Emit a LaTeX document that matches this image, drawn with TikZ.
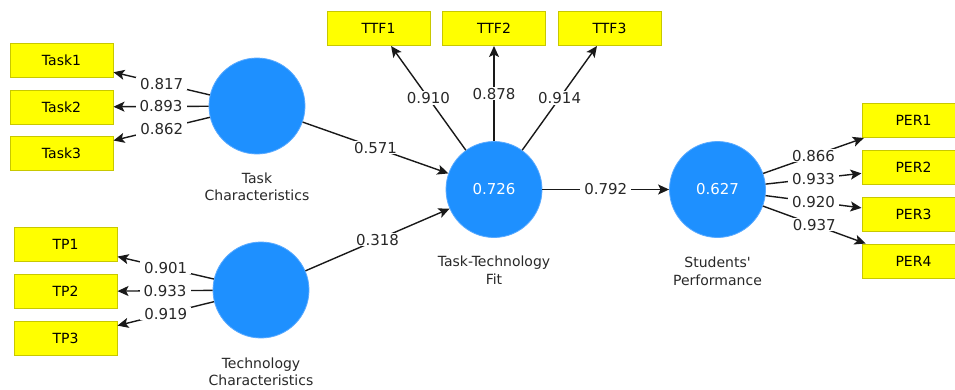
\documentclass[tikz,border=0pt]{standalone}
\usepackage{fontspec}
\setmainfont{DejaVu Sans}[Ligatures=TeXOff]
\usepackage{tikz}
\usetikzlibrary{arrows.meta,positioning}
\definecolor{AmarilloInd}{RGB}{255,255,0}
\definecolor{BordeInd}{RGB}{200,200,0}
\definecolor{AzulVL}{RGB}{30,144,255}
\definecolor{AzulBorde}{RGB}{90,170,255}
\definecolor{GrisTexto}{RGB}{40,40,40}
\definecolor{GrisLinea}{RGB}{25,25,25}

\begin{document}
\begin{tikzpicture}[x=1pt,y=-1pt,>={Stealth[length=11pt,width=10pt,inset=2.5pt]},
  ind/.style={draw=BordeInd,fill=AmarilloInd,line width=1pt,minimum width=103pt,
    minimum height=34pt,inner sep=0pt,font=\fontsize{14}{17}\selectfont},
  vl/.style={circle,fill=AzulVL,draw=AzulBorde,line width=0.8pt,minimum size=96pt,
    inner sep=0pt,text=white,font=\fontsize{15}{17}\selectfont},
  nombre/.style={align=center,inner sep=0pt,text=GrisTexto,font=\fontsize{14}{17.5}\selectfont},
  carga/.style={midway,fill=white,inner xsep=4pt,inner ysep=1pt,text=GrisTexto,font=\fontsize{15}{17}\selectfont},
  flecha/.style={->,line width=1.4pt,draw=GrisLinea}]
  \useasboundingbox (0,0) rectangle (955,389);
  \clip (0,0) rectangle (955,389);
  % variables latentes
  \node[vl] (tc) at (257,106) {};
  \node[vl] (tech) at (261,290) {};
  \node[vl] (ttf) at (494,189.5) {0.726};
  \node[vl] (sp) at (717.5,189.5) {0.627};
  \node[nombre,below=18pt of tc] (tclab) {Task\\Characteristics};
  \node[nombre,below=19pt of tech] (techlab) {Technology\\Characteristics};
  \node[nombre,below=18pt of ttf] (ttflab) {Task-Technology\\Fit};
  \node[nombre,below=19pt of sp] (splab) {Students'\\Performance};
  % indicadores
  \foreach \i/\y in {1/60,2/107,3/153} \node[ind] (task\i) at (61.5,\y) {Task\i};
  \foreach \i/\y in {1/244.5,2/291.5,3/338.5} \node[ind] (tp\i) at (65.5,\y) {TP\i};
  \foreach \i/\x in {1/378.5,2/494,3/609.5} \node[ind] (ttf\i) at (\x,28.5) {TTF\i};
  \foreach \i/\y in {1/120.5,2/167.5,3/214.5,4/261} \node[ind] (per\i) at (913.5,\y) {PER\i};
  % cargas
  \foreach \i/\v in {1/0.817,2/0.893,3/0.862} \draw[flecha] (tc) -- (task\i) node[carga] {\v};
  \foreach \i/\v in {1/0.901,2/0.933,3/0.919} \draw[flecha] (tech) -- (tp\i) node[carga] {\v};
  \foreach \i/\v in {1/0.910,2/0.878,3/0.914} \draw[flecha] (ttf) -- (ttf\i) node[carga] {\v};
  \foreach \i/\v in {1/0.866,2/0.933,3/0.920,4/0.937} \draw[flecha] (sp) -- (per\i) node[carga] {\v};
  % coeficientes
  \draw[flecha] (tc) -- (ttf) node[carga] {0.571};
  \draw[flecha] (tech) -- (ttf) node[carga] {0.318};
  \draw[flecha] (ttf) -- (sp) node[carga] {0.792};
\end{tikzpicture}
\end{document}
